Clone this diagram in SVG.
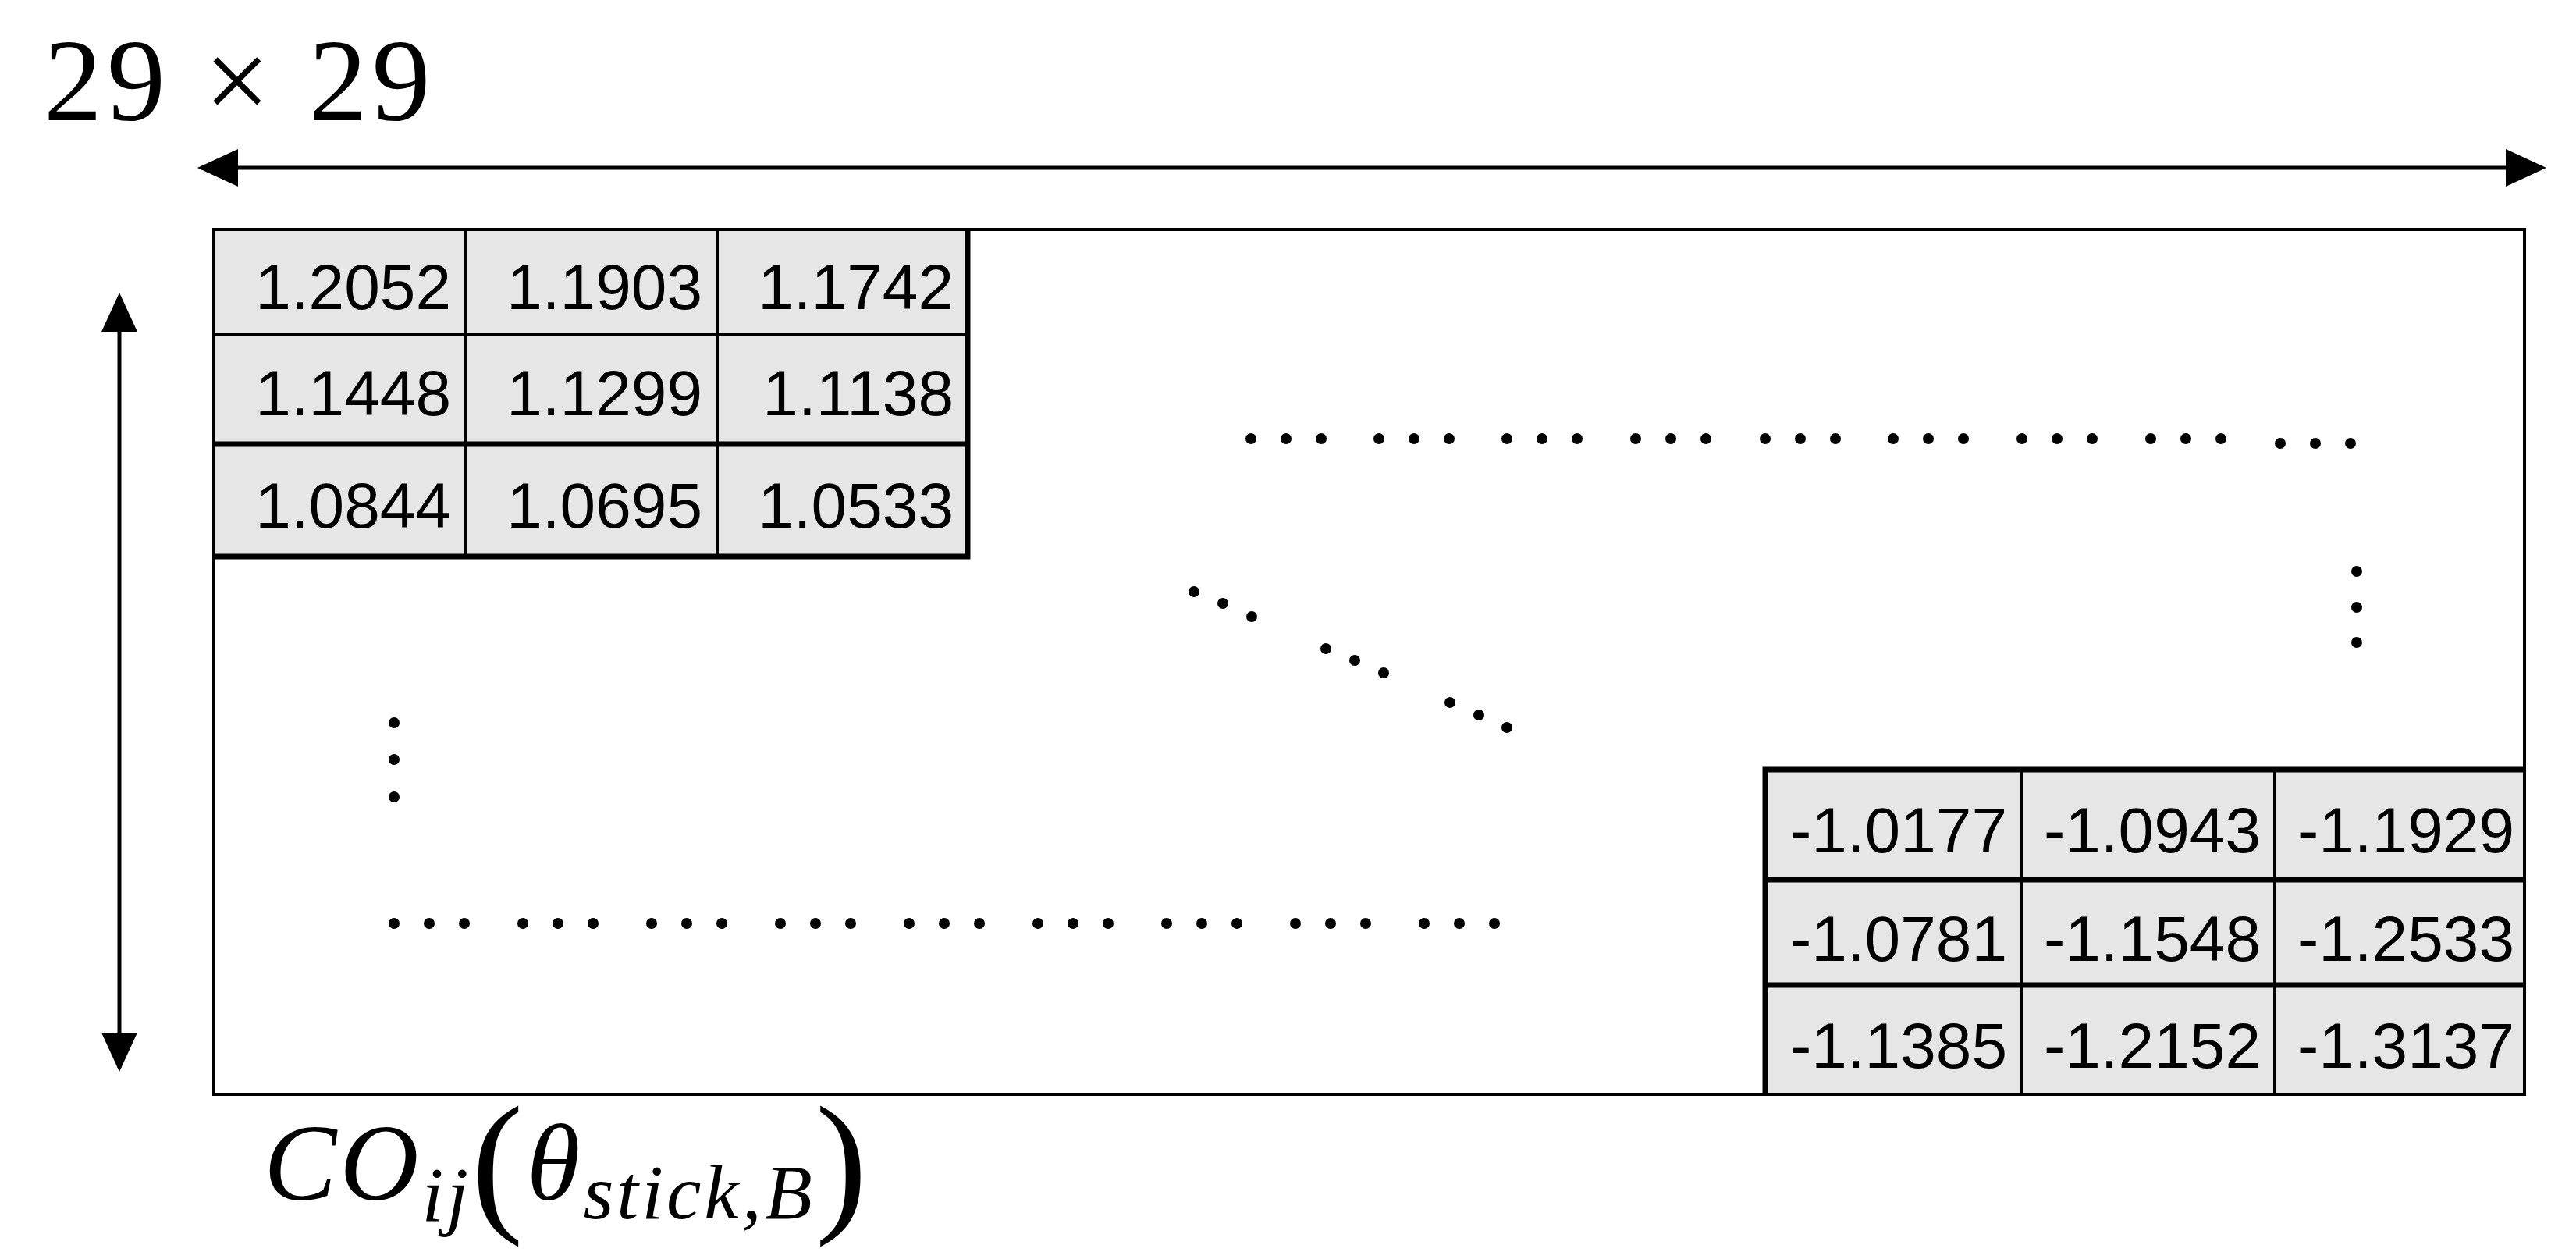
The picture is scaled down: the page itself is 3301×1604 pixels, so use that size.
<svg xmlns="http://www.w3.org/2000/svg" width="3301" height="1604" viewBox="0 0 3301 1604">
<style>
.cell{fill:#e6e6e6;stroke:#000;stroke-width:4}
.num{font-family:"Liberation Sans",Arial,sans-serif;font-size:82px;fill:#000;text-anchor:end}
.dot{fill:#000}
.math{font-family:"Liberation Serif","Times New Roman",serif;fill:#000}
</style>
<defs>
<g id="tri"><circle cx="0" cy="0" r="7"/><circle cx="45" cy="0" r="7"/><circle cx="90" cy="0" r="7"/></g>
</defs>
<rect width="3301" height="1604" fill="#fff"/>
<text class="math" x="56" y="154" font-size="150" letter-spacing="6">29 × 29</text>
<g id="connectors">
<line x1="258" y1="215" x2="3258" y2="215" stroke="#000" stroke-width="5"/>
<path d="M253,215 L305,191 L305,239 Z" fill="#000"/>
<path d="M3263,215 L3211,191 L3211,239 Z" fill="#000"/>
<line x1="153" y1="380" x2="153" y2="1368" stroke="#000" stroke-width="5"/>
<path d="M153,375 L130,425 L176,425 Z" fill="#000"/>
<path d="M153,1373 L130,1323 L176,1323 Z" fill="#000"/>
</g>
<g id="matrix">
<rect x="274" y="294" width="2961" height="1108" fill="#fff" stroke="#000" stroke-width="4"/>
</g>
<g id="topleft">
<rect class="cell" x="274" y="294" width="323" height="134"/>
<rect class="cell" x="597" y="294" width="322" height="134"/>
<rect class="cell" x="919" y="294" width="321" height="134"/>
<rect class="cell" x="274" y="428" width="323" height="141"/>
<rect class="cell" x="597" y="428" width="322" height="141"/>
<rect class="cell" x="919" y="428" width="321" height="141"/>
<rect class="cell" x="274" y="569" width="323" height="144"/>
<rect class="cell" x="597" y="569" width="322" height="144"/>
<rect class="cell" x="919" y="569" width="321" height="144"/>
<path d="M274,713 H1240 V294 M274,569 H1240" stroke="#000" stroke-width="7" fill="none"/>
<text class="num" x="578" y="396">1.2052</text>
<text class="num" x="900" y="396">1.1903</text>
<text class="num" x="1222" y="396">1.1742</text>
<text class="num" x="578" y="532">1.1448</text>
<text class="num" x="900" y="532">1.1299</text>
<text class="num" x="1222" y="532">1.1138</text>
<text class="num" x="578" y="676">1.0844</text>
<text class="num" x="900" y="676">1.0695</text>
<text class="num" x="1222" y="676">1.0533</text>
</g>
<g id="bottomright">
<rect class="cell" x="2262" y="986" width="328" height="141"/>
<rect class="cell" x="2590" y="986" width="325" height="141"/>
<rect class="cell" x="2915" y="986" width="320" height="141"/>
<rect class="cell" x="2262" y="1127" width="328" height="135"/>
<rect class="cell" x="2590" y="1127" width="325" height="135"/>
<rect class="cell" x="2915" y="1127" width="320" height="135"/>
<rect class="cell" x="2262" y="1262" width="328" height="140"/>
<rect class="cell" x="2590" y="1262" width="325" height="140"/>
<rect class="cell" x="2915" y="1262" width="320" height="140"/>
<path d="M2262,1402 V986 H3235 M2262,1127 H3235 M2262,1262 H3235" stroke="#000" stroke-width="7" fill="none"/>
<text class="num" x="2572" y="1092">-1.0177</text>
<text class="num" x="2897" y="1092">-1.0943</text>
<text class="num" x="3222" y="1092">-1.1929</text>
<text class="num" x="2572" y="1231">-1.0781</text>
<text class="num" x="2897" y="1231">-1.1548</text>
<text class="num" x="3222" y="1231">-1.2533</text>
<text class="num" x="2572" y="1368">-1.1385</text>
<text class="num" x="2897" y="1368">-1.2152</text>
<text class="num" x="3222" y="1368">-1.3137</text>
</g>
<g id="dots" class="dot">
<use href="#tri" x="1603" y="562"/><use href="#tri" x="1767" y="562"/><use href="#tri" x="1931" y="562"/>
<use href="#tri" x="2096" y="562"/><use href="#tri" x="2262" y="562"/><use href="#tri" x="2426" y="562"/>
<use href="#tri" x="2591" y="562"/><use href="#tri" x="2756" y="562"/><use href="#tri" x="2922" y="568"/>
<use href="#tri" x="505" y="1183"/><use href="#tri" x="670" y="1183"/><use href="#tri" x="835" y="1183"/>
<use href="#tri" x="1000" y="1183"/><use href="#tri" x="1165" y="1183"/><use href="#tri" x="1330" y="1183"/>
<use href="#tri" x="1495" y="1183"/><use href="#tri" x="1660" y="1183"/><use href="#tri" x="1825" y="1183"/>
<circle cx="3020" cy="732" r="7"/><circle cx="3020" cy="778" r="7"/><circle cx="3020" cy="823" r="7"/>
<circle cx="505" cy="926" r="7"/><circle cx="505" cy="973" r="7"/><circle cx="505" cy="1021" r="7"/>
<circle cx="1530" cy="758" r="7"/><circle cx="1567" cy="773" r="7"/><circle cx="1604" cy="790" r="7"/>
<circle cx="1699" cy="831" r="7"/><circle cx="1736" cy="846" r="7"/><circle cx="1773" cy="862" r="7"/>
<circle cx="1858" cy="900" r="7"/><circle cx="1895" cy="916" r="7"/><circle cx="1931" cy="932" r="7"/>
</g>
<text class="math" font-style="italic" font-size="140" letter-spacing="4"><tspan x="338" y="1537">CO</tspan><tspan font-size="100" y="1564">ij</tspan><tspan font-style="normal" font-size="200" y="1555">(</tspan><tspan y="1537">θ</tspan><tspan font-size="100" y="1561">stick,B</tspan><tspan font-style="normal" font-size="200" y="1555">)</tspan></text>
</svg>
